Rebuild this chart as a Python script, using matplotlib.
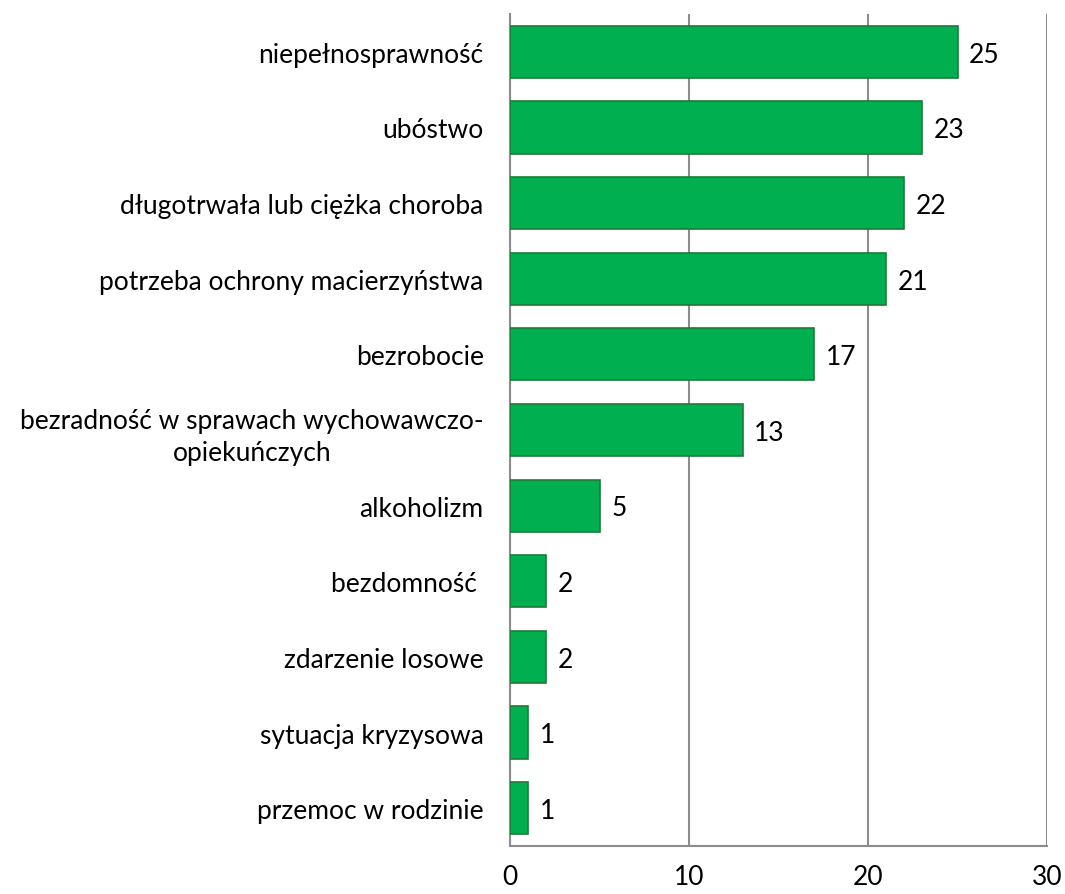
import matplotlib.pyplot as plt
import numpy as np

plt.rcParams['font.family'] = ['Lato', 'DejaVu Sans']

## Categories (top to bottom) and values
categories = ["niepełnosprawność", "ubóstwo", "długotrwała lub ciężka choroba",
              "potrzeba ochrony macierzyństwa", "bezrobocie",
              "bezradność w sprawach wychowawczo-\nopiekuńczych", "alkoholizm",
              "bezdomność ", "zdarzenie losowe", "sytuacja kryzysowa",
              "przemoc w rodzinie"]
values = [25, 23, 22, 21, 17, 13, 5, 2, 2, 1, 1]
xticks = [0, 10, 20, 30]

fig = plt.figure(figsize=(10.65, 8.95), dpi=100)
ax = fig.add_axes([0.4789, 0.0536, 0.5042, 0.9296])

y = np.arange(len(categories))
ax.barh(y, values, height=0.69, color="#00B050", edgecolor="#1E7B3A", linewidth=1.2, zorder=3)

for yi, v in zip(y, values):
    ax.text(v + 0.65, yi + 0.03, str(v), va="center", ha="left", fontsize=19, color="black")

ax.set_yticks(y)
ax.set_yticklabels(categories, fontsize=19, multialignment="center", linespacing=1.35)
ax.set_xticks(xticks)
ax.set_xticklabels([str(t) for t in xticks], fontsize=19)
ax.set_xlim(0, 30)
ax.set_ylim(len(categories) - 0.5, -0.5)

ax.tick_params(axis="y", length=0, pad=19)
ax.tick_params(axis="x", length=0, pad=13)
ax.grid(axis="x", color="#8C8C8C", linewidth=1.5, zorder=0)
for s in ["top", "right"]:
    ax.spines[s].set_visible(False)
for s in ["left", "bottom"]:
    ax.spines[s].set_color("#8C8C8C")
    ax.spines[s].set_linewidth(1.5)

fig.savefig("out.png", dpi=100)
